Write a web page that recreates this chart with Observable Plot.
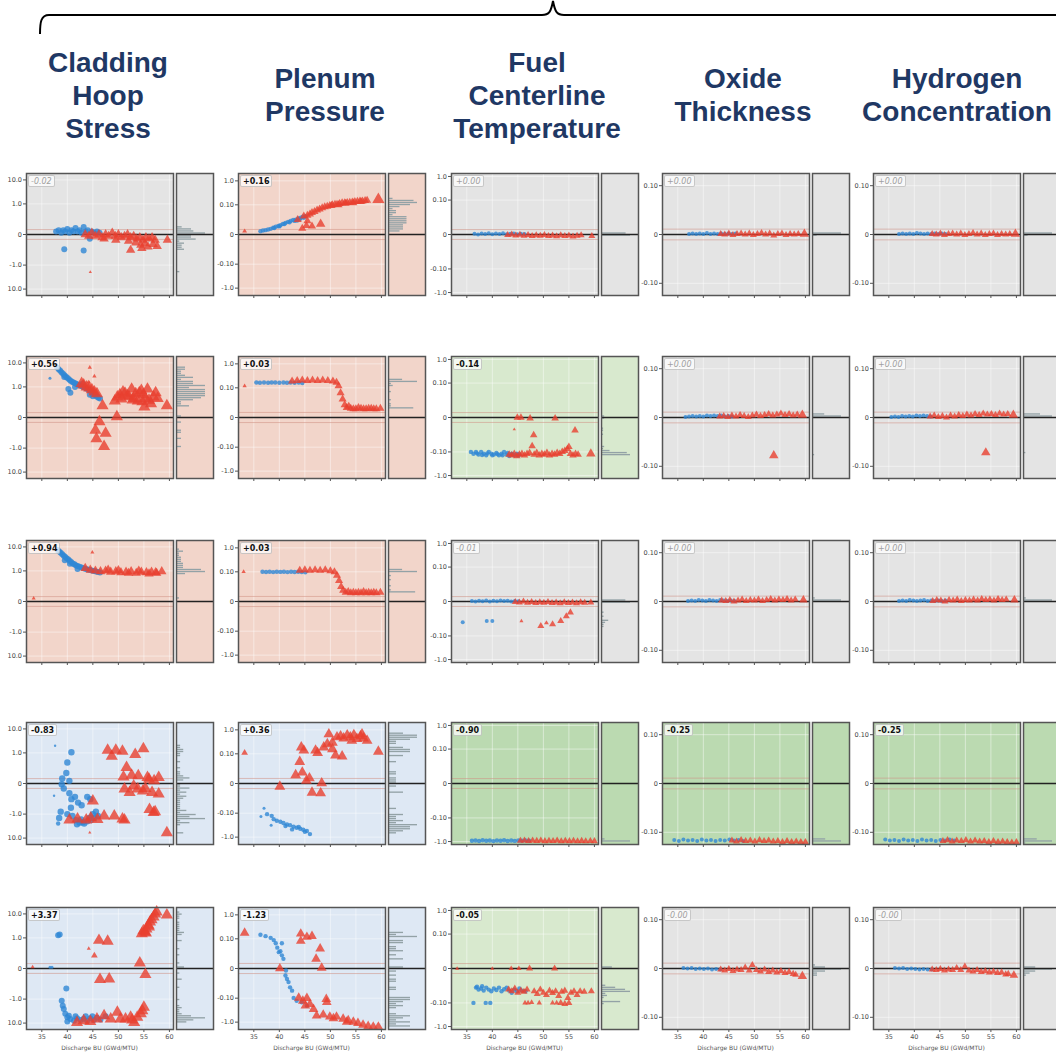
<!DOCTYPE html>
<html>
<head>
<meta charset="utf-8">
<script src="https://cdn.jsdelivr.net/npm/d3@7"></script>
<script src="https://cdn.jsdelivr.net/npm/@observablehq/plot@0.6"></script>
<style>
  body { margin: 0; background: #fff; }
  #chart { position: relative; width: 1056px; height: 1053px; overflow: hidden; font-family: "DejaVu Sans", sans-serif; }
  .title { position: absolute; width: 240px; text-align: center; font: bold 28px/33px "Liberation Sans", Arial, sans-serif; color: #1f3864; transform: translate(-50%, -50%); }
  .badge { position: absolute; font-family: "DejaVu Sans", sans-serif; font-size: 8px; line-height: 9px; padding: 0.5px 2px; background: rgba(255,255,255,0.72); border: 1px solid rgba(140,140,140,0.45); border-radius: 2px; }
  .badge.sig { font-weight: bold; color: #111; }
  .badge.ns { font-style: italic; color: #a0a0a0; }
  .xlabel { position: absolute; font-family: "DejaVu Sans", sans-serif; font-size: 6px; color: #555; text-align: center; white-space: nowrap; }
  .cell { position: absolute; }
  .cell svg { overflow: visible; max-width: none !important; }
</style>
</head>
<body>
<div id="chart"></div>
<script>
// ---- column headers and axis ticks ----
const columnTitles = [
  ["Cladding", "Hoop", "Stress"],
  ["Plenum", "Pressure"],
  ["Fuel", "Centerline", "Temperature"],
  ["Oxide", "Thickness"],
  ["Hydrogen", "Concentration"]
];
const xTicks = [35, 40, 45, 50, 55, 60];
const xLabel = "Discharge BU (GWd/MTU)";
const yTicksStress = [-10, -1, 0, 1, 10];
const yTickLabelsStress = ["10.0", "-1.0", "0", "1.0", "10.0"];
const yTicksWide = [-1, -0.1, 0, 0.1, 1];
const yTickLabelsWide = ["-1.0", "-0.10", "0", "0.10", "1.0"];
const yTicksNarrow = [-0.1, 0, 0.1];
const yTickLabelsNarrow = ["-0.10", "0", "0.10"];

// ---- coefficient shown in each panel (rows x columns) ----
const coefficientLabels = [
  ["-0.02", "+0.16", "+0.00", "+0.00", "+0.00"],
  ["+0.56", "+0.03", "-0.14", "+0.00", "+0.00"],
  ["+0.94", "+0.03", "-0.01", "+0.00", "+0.00"],
  ["-0.83", "+0.36", "-0.90", "-0.25", "-0.25"],
  ["+3.37", "-1.23", "-0.05", "-0.00", "-0.00"]
];
const coefficientSignificant = [
  [false, true, false, false, false],
  [true, true, true, false, false],
  [true, true, false, false, false],
  [true, true, true, true, true],
  [true, true, true, false, false]
];
const panelFills = [
  ["gray", "salmon", "gray", "gray", "gray"],
  ["salmon", "salmon", "lightgreen", "gray", "gray"],
  ["salmon", "salmon", "gray", "gray", "gray"],
  ["blue", "blue", "darkgreen", "darkgreen", "darkgreen"],
  ["blue", "blue", "lightgreen", "gray", "gray"]
];
const fillColors = {gray: "#e4e4e4", salmon: "#f2d5ca", blue: "#dee8f4", lightgreen: "#d8e9ce", darkgreen: "#bbdab1"};

// ---- Cladding hoop stress: [discharge BU, relative change, optional marker radius] ----
const hoop1Blue = [[37.8,0.02],[38.3,0.03],[38.8,0.01],[39.2,0.03],[39.6,0.02],[40.0,0.04],[40.4,0.01],[40.8,0.03],[41.2,0.02],[41.6,0.05],[42.0,0.02],[42.4,0.03],[42.8,0.01],[43.2,0.06],[43.6,0.02],[44.0,0.03],[44.4,-0.03],[44.8,0.02],[45.3,0.01],[45.8,0.02],[46.3,0.01],[39.4,-0.18],[43.2,-0.21]];
const hoop1Red = [[43.5,0.0],[44.2,-0.01],[44.8,0.01],[45.5,-0.01],[46.2,0.0],[46.8,-0.02],[47.5,0.0],[48.1,-0.01],[48.8,0.01],[49.4,-0.01],[50.0,0.0],[50.6,-0.02],[51.2,-0.01],[51.8,0.0],[52.4,-0.02],[53.0,-0.01],[53.6,-0.03],[54.2,-0.02],[54.8,-0.04],[55.4,-0.02],[56.0,-0.03],[56.6,-0.02],[57.2,-0.04],[47.2,-0.03],[49.5,-0.04],[52.0,-0.05],[53.4,-0.07],[54.4,-0.1],[55.2,-0.08],[55.8,-0.13],[56.8,-0.09],[54.6,-0.16],[52.4,-0.2],[57.6,-0.12],[59.6,-0.04],[44.5,-2.0,1.2]];
const hoop2Blue = [[38.0,6.5],[38.3,5.5],[38.6,4.8],[38.9,4.0],[39.2,3.5],[39.5,3.0],[39.8,2.6],[40.1,2.3],[40.4,2.0],[40.7,1.8],[41.0,1.6],[41.3,1.5],[41.6,1.4],[41.9,1.3],[42.2,1.2],[42.5,1.15],[42.8,1.1],[43.1,1.0],[43.4,0.95],[43.7,0.85],[44.0,0.8],[44.3,0.72],[44.6,0.65],[44.9,0.58],[45.2,0.5],[45.5,0.42],[45.8,0.36],[46.1,0.32],[46.4,0.3],[40.2,0.8],[40.6,0.55],[41.5,1.0],[43.0,1.4],[44.4,0.45],[45.0,0.38],[39.4,2.6],[36.6,2.3,1.5]];
const hoop2Red = [[42.8,1.4],[43.2,1.2],[43.8,1.0],[44.3,0.9],[44.8,0.75],[45.3,0.6],[45.8,0.5],[44.4,6.5,1.6],[45.3,2.8,1.6],[44.2,1.6,1.6],[49.3,0.22],[49.8,0.35],[50.3,0.45],[50.9,0.6],[51.3,0.52],[51.8,0.4],[52.1,0.36],[52.6,0.8],[53.0,0.3],[53.4,0.5],[53.8,0.22],[54.1,0.55],[54.5,0.7],[54.9,0.45],[55.3,0.3],[55.7,0.8],[56.0,0.24],[56.4,0.16],[56.9,0.35],[57.3,0.55],[57.7,0.3],[55.1,0.1],[54.7,0.2],[52.8,0.25],[50.6,0.28],[59.5,0.12],[46.9,0.12],[49.7,0.005],[46.3,-0.03],[45.5,-0.14],[47.5,-0.2],[45.7,-0.38],[47.2,-0.86]];
const hoop3Blue = [[38.1,7.5],[38.4,6.5],[38.7,5.8],[39.0,5.0],[39.3,4.3],[39.6,3.8],[39.9,3.3],[40.2,3.0],[40.5,2.6],[40.8,2.3],[41.1,2.0],[41.4,1.9],[41.7,1.7],[42.0,1.6],[42.4,1.5],[42.8,1.4],[43.2,1.3],[43.6,1.2],[44.0,1.15],[44.4,1.1],[44.8,1.05],[45.2,1.0],[45.6,0.95],[46.0,0.9],[46.4,0.85],[39.5,2.8],[40.5,2.0],[42.0,1.2]];
const hoop3Red = [[43.5,1.3],[44.5,1.1],[45.5,1.0],[46.5,0.95],[47.5,1.0],[48.5,0.9],[49.5,0.95],[50.5,0.85],[51.5,0.9],[52.5,0.95],[53.5,0.8],[54.5,0.9],[55.5,0.85],[56.5,0.9],[57.5,0.8],[58.5,0.95],[48.0,1.1],[50.0,1.05],[52.0,0.8],[54.0,1.0],[56.0,0.75],[57.3,0.86],[44.9,6.0,1.5],[33.4,0.02,1.5]];
const hoop4Blue = [[40.8,1.06],[40.0,0.37],[39.8,0.1],[39.0,0.036],[40.4,0.017],[38.9,-0.004],[39.3,-0.036],[40.4,-0.09],[40.8,-0.2],[41.5,-0.15],[42.1,-0.3],[42.8,-0.4],[43.9,-0.15],[44.5,-0.2],[38.7,-0.78],[38.4,-1.45],[38.2,-2.5,2.2],[40.0,-1.0],[40.7,-0.52],[41.0,-1.2],[41.7,-1.8],[42.4,-2.3],[42.7,-1.7],[43.3,-2.5],[43.9,-2.0],[44.3,-1.45],[45.0,-1.0],[45.6,-0.78],[46.0,-1.2],[41.9,-2.7],[43.0,-2.2],[44.6,-1.8],[45.3,-1.45],[37.6,2.0,1.2],[37.4,-0.13,1.2]];
const hoop4Red = [[47.9,1.3],[48.7,0.71],[49.5,1.3],[50.8,1.17],[53.3,0.85],[54.9,1.5],[51.6,0.21],[51.0,0.05],[52.6,0.07],[53.9,0.065],[55.7,0.045],[56.0,0.03],[57.0,0.017],[57.9,0.045],[51.2,-0.04],[52.2,-0.08],[53.0,-0.015],[53.8,-0.04],[54.8,-0.06],[55.3,-0.036],[56.6,-0.08],[57.9,-0.1],[56.1,-0.63],[56.9,-0.86],[57.2,-0.78],[59.5,-6.0],[40.4,-1.8],[42.0,-1.6],[43.7,-1.8],[44.6,-1.45],[45.9,-1.7],[47.2,-1.2],[49.2,-1.2],[50.8,-1.6],[51.2,-1.8],[45.0,-0.25],[44.4,-6.0,1.2]];
const hoop5Blue = [[36.6,0.008,1.5],[37.0,0.008,1.5],[38.2,1.29],[38.5,1.4],[39.8,-0.33],[38.9,-1.17],[39.1,-1.9],[39.3,-2.6],[39.6,-4.1],[40.0,-5.8],[40.0,-8.6],[40.6,-6.8],[41.3,-8.0],[41.9,-6.3],[42.6,-7.5],[43.2,-6.6],[43.9,-8.0],[44.5,-6.3],[45.2,-7.5],[45.8,-6.1],[46.5,-7.1],[47.5,-5.2],[40.3,-5.0],[41.6,-5.2],[43.6,-5.2],[44.9,-5.2]];
const hoop5Red = [[33.2,0.008,1.5],[44.2,0.33,1.5],[45.3,0.14,2.5],[46.2,0.78],[47.9,0.71],[46.4,-0.11],[48.2,-0.1],[54.2,0.04],[55.3,-0.045],[54.6,1.5],[54.9,2.0],[55.2,1.8],[55.5,2.4],[55.9,3.4],[56.2,4.6],[56.5,5.8],[56.9,7.5],[57.2,9.8],[57.5,12.0],[55.4,1.6],[56.0,2.9],[59.5,9.0],[41.9,-9.5],[43.2,-8.0],[44.5,-8.6],[45.8,-6.8],[47.2,-5.0],[48.5,-6.8],[49.8,-3.6],[50.4,-6.8],[51.4,-6.8],[52.4,-5.8],[53.1,-9.5],[53.7,-5.8],[54.4,-4.1],[54.7,-3.1],[55.0,-2.2],[52.7,-7.5]];

// ---- Plenum pressure ----
const plen1Blue = [[36.3,0.0024],[36.8,0.003],[37.3,0.0033],[37.8,0.004],[38.3,0.0046],[38.8,0.0058],[39.3,0.007],[39.8,0.008],[40.2,0.009],[40.7,0.011],[41.2,0.013],[41.7,0.015],[42.2,0.017],[42.7,0.019],[43.2,0.02],[43.7,0.023],[44.2,0.025],[44.6,0.028],[45.1,0.03],[41.0,0.011],[42.0,0.014],[43.0,0.017],[44.0,0.021],[39.0,0.0055],[40.0,0.0075],[43.5,0.018],[44.8,0.025]];
const plen1Red = [[45.5,0.033],[46.0,0.038],[46.4,0.044],[46.9,0.05],[47.4,0.058],[47.9,0.065],[48.4,0.073],[48.9,0.08],[49.4,0.085],[49.9,0.093],[50.4,0.1],[50.9,0.103],[51.3,0.105],[51.8,0.112],[52.3,0.12],[52.8,0.122],[53.3,0.125],[53.8,0.128],[54.3,0.13],[54.8,0.135],[55.3,0.14],[55.8,0.142],[56.3,0.145],[56.8,0.15],[57.2,0.155],[50.2,0.092],[51.6,0.1],[53.0,0.115],[54.5,0.122],[56.0,0.135],[59.4,0.17,4.5],[33.2,0.0024,1.8],[44.5,0.005],[45.3,0.0085],[46.4,0.0077],[48.1,0.011,3.5],[43.6,0.02],[44.8,0.03],[45.5,0.017]];
const plen2Blue = [[35.5,0.17],[36.2,0.165],[37.0,0.17],[37.8,0.165],[38.5,0.17],[39.2,0.17],[40.0,0.165],[40.8,0.17],[41.5,0.165],[42.2,0.17],[43.0,0.165],[43.8,0.17],[44.5,0.16]];
const plen2Red = [[33.2,0.12,1.6],[42.5,0.19],[43.5,0.2],[44.5,0.21],[45.5,0.2],[46.5,0.21],[47.5,0.2],[48.5,0.21],[49.5,0.2],[50.5,0.19],[51.2,0.17],[51.6,0.12],[52.0,0.06],[52.4,0.03],[52.8,0.015],[53.2,0.01],[53.6,0.012],[54.0,0.009],[54.5,0.008],[55.0,0.008],[55.5,0.01],[56.0,0.009],[56.5,0.008],[57.0,0.008],[57.5,0.009],[58.0,0.009],[58.5,0.008],[59.0,0.008],[59.8,0.009]];
const plen3Blue = [[36.7,0.1],[37.4,0.098],[38.1,0.1],[38.8,0.097],[39.5,0.1],[40.2,0.099],[40.9,0.1],[41.6,0.097],[42.3,0.1],[43.0,0.098],[43.7,0.1],[44.4,0.097],[45.1,0.095]];
const plen3Red = [[33.0,0.1,1.6],[44.0,0.115],[45.0,0.12],[46.0,0.115],[47.0,0.12],[48.0,0.115],[49.0,0.12],[50.0,0.11],[50.8,0.1],[51.3,0.07],[51.7,0.04],[52.1,0.02],[52.5,0.012],[53.0,0.009],[53.5,0.01],[54.0,0.008],[54.5,0.009],[55.0,0.008],[55.5,0.009],[56.0,0.008],[56.5,0.01],[57.0,0.008],[57.5,0.009],[58.0,0.008],[58.5,0.009],[59.0,0.008],[59.8,0.009]];
const plen4Blue = [[37.0,-0.06,1.5],[36.4,-0.14,1.5],[37.6,-0.11],[38.5,-0.13],[38.4,-0.32,1.5],[38.9,-0.18],[39.5,-0.21],[40.2,-0.23],[40.8,-0.26],[41.5,-0.3],[42.1,-0.32],[42.8,-0.37],[43.4,-0.41],[44.1,-0.45],[44.7,-0.5],[45.4,-0.56],[46.0,-0.75],[42.5,-0.48],[41.2,-0.35],[43.8,-0.38],[45.0,-0.6]];
const plen4Red = [[33.2,0.11,2.5],[40.1,-0.0022],[43.2,0.008],[44.0,0.044],[44.3,0.19],[44.8,0.14],[44.5,0.012],[45.3,0.002],[45.9,0.0043],[46.4,-0.0088],[48.1,-0.0097],[48.3,0.0002],[47.1,0.14],[47.5,0.11],[48.7,0.19],[49.4,0.26],[49.7,0.67],[50.4,0.16],[51.0,0.085],[52.3,0.078],[50.4,0.3],[51.3,0.5],[52.0,0.55],[52.6,0.45],[53.3,0.6],[53.9,0.5],[54.6,0.62],[55.2,0.43],[55.9,0.55],[56.5,0.45],[57.2,0.36],[54.2,0.36],[56.2,0.67],[59.4,0.125]];
const plen5Blue = [[36.3,0.15],[37.3,0.13],[38.3,0.11],[38.9,0.088],[39.3,0.064],[39.6,0.04],[39.9,0.024],[40.2,0.027],[40.5,0.016],[40.5,0.064],[40.8,0.0097],[41.3,-0.0014],[41.2,-0.0062],[41.5,-0.011],[41.8,-0.017],[42.1,-0.032],[42.5,-0.046],[42.8,-0.097],[43.4,-0.13],[44.4,-0.15],[45.4,-0.21]];
const plen5Red = [[33.2,0.18],[44.2,0.165],[44.2,0.08],[45.4,0.12],[46.4,0.13],[48.0,0.036],[47.2,0.0097],[48.3,0.0004],[40.1,0.0],[49.2,-0.11],[49.3,-0.15],[43.8,-0.097],[44.6,-0.13],[45.4,-0.1],[46.0,-0.18],[46.7,-0.29],[45.1,-0.21],[47.3,-0.55],[48.6,-0.5],[49.9,-0.6],[50.6,-0.7],[51.2,-0.6],[52.5,-0.74],[53.2,-0.98],[53.5,-0.85],[54.5,-0.98],[55.4,-1.1],[56.4,-1.3],[57.4,-1.45],[58.4,-1.55],[59.4,-1.55]];

// ---- Fuel centerline temperature ----
const fuel1Blue = [[36.5,0.0003],[37.2,0.0],[37.9,0.0004],[38.6,0.0002],[39.3,0.0005],[40.0,0.0001],[40.7,0.0004],[41.4,0.0002],[42.1,0.0005],[42.8,0.0001],[43.5,0.0003],[44.2,0.0004],[44.9,0.0001],[45.6,0.0003],[46.3,0.0002]];
const fuel1Red = [[43.0,-0.0002],[43.8,0.0],[44.6,-0.0004],[45.4,-0.0001],[46.2,-0.0005],[47.0,-0.0002],[47.8,-0.0006],[48.6,-0.0003],[49.4,-0.0005],[50.2,-0.0002],[51.0,-0.0006],[51.8,-0.0004],[52.6,-0.0007],[53.4,-0.0003],[54.2,-0.0006],[55.0,-0.0004],[55.8,-0.0008],[56.6,-0.0005],[57.4,-0.0003],[59.5,-0.0006]];
const fuel2Blue = [[35.8,-0.1],[36.3,-0.12],[36.8,-0.1],[37.3,-0.13],[37.8,-0.1],[38.3,-0.12],[38.8,-0.14],[39.3,-0.1],[39.8,-0.12],[40.3,-0.13],[40.8,-0.11],[41.3,-0.14],[41.8,-0.12],[42.3,-0.1],[42.8,-0.13],[43.3,-0.15],[43.8,-0.12],[44.3,-0.14],[44.8,-0.12],[45.3,-0.13],[37.0,-0.115],[38.0,-0.135],[39.0,-0.115],[40.0,-0.14],[41.0,-0.125],[42.0,-0.14],[43.0,-0.11],[44.0,-0.13],[45.0,-0.145]];
const fuel2Red = [[43.3,-0.13],[43.8,-0.14],[44.3,-0.12],[44.8,-0.15],[45.3,-0.13],[45.8,-0.12],[46.3,-0.14],[46.8,-0.12],[47.3,-0.11],[48.2,-0.13],[48.7,-0.11],[49.2,-0.14],[49.7,-0.12],[50.2,-0.13],[50.7,-0.11],[51.2,-0.14],[51.7,-0.12],[52.2,-0.13],[52.7,-0.11],[53.2,-0.12],[53.7,-0.1],[54.2,-0.09],[54.7,-0.075],[55.0,-0.06],[55.3,-0.12],[55.8,-0.14],[56.3,-0.12],[56.8,-0.13],[59.3,-0.12,3.5],[56.2,-0.0092],[48.1,-0.017],[47.8,-0.055],[44.9,0.0],[45.6,0.0],[47.4,-0.0003],[52.3,-0.0003],[44.3,-0.008,1.2]];
const fuel3Blue = [[36.0,0.0002],[36.7,0.0],[37.4,0.0003],[38.1,0.0001],[38.8,0.0004],[39.5,0.0],[40.2,0.0003],[40.9,0.0001],[41.6,0.0004],[42.3,0.0002],[43.0,0.0003],[43.7,0.0],[44.4,0.0002],[45.1,0.0001],[34.2,-0.024],[38.9,-0.021],[40.0,-0.021]];
const fuel3Red = [[44.5,-0.0002],[45.3,-0.0004],[46.1,0.0],[46.9,-0.0005],[47.7,-0.0002],[48.5,-0.0006],[49.3,-0.0003],[50.1,-0.0005],[50.9,-0.0002],[51.7,-0.0006],[52.5,-0.0004],[53.3,-0.0007],[54.1,-0.0003],[54.9,-0.0006],[55.7,-0.0004],[56.5,-0.0007],[57.3,-0.0003],[58.1,-0.0005],[59.3,-0.0004],[49.5,-0.036],[51.8,-0.03],[53.4,-0.021],[54.5,-0.012],[55.3,-0.007],[45.7,-0.021,1.5],[50.6,-0.026,1.8]];
const fuel4Blue = [[36.0,-0.92],[36.7,-0.9],[37.4,-0.95],[38.1,-0.88],[38.8,-0.93],[39.5,-0.9],[40.2,-0.96],[40.9,-0.9],[41.6,-0.93],[42.3,-0.88],[43.0,-0.95],[43.7,-0.91],[44.4,-0.94],[45.1,-0.9],[45.8,-0.93],[46.5,-0.89],[47.2,-0.92]];
const fuel4Red = [[45.5,-0.93],[46.3,-0.9],[47.1,-0.95],[47.9,-0.91],[48.7,-0.94],[49.5,-0.9],[50.3,-0.96],[51.1,-0.92],[51.9,-0.95],[52.7,-0.91],[53.5,-0.97],[54.3,-0.93],[55.1,-0.96],[55.9,-0.92],[56.7,-0.98],[57.5,-0.94],[58.3,-0.97],[59.2,-0.95],[60.0,-0.96]];
const fuel5Blue = [[36.8,-0.02],[37.3,-0.025],[37.8,-0.022],[38.3,-0.028],[38.8,-0.02],[39.3,-0.025],[39.8,-0.03],[40.3,-0.022],[40.8,-0.026],[41.3,-0.02],[41.8,-0.03],[42.3,-0.024],[42.8,-0.02],[43.3,-0.028],[43.8,-0.035],[44.3,-0.025],[44.8,-0.03],[45.3,-0.022],[45.8,-0.028],[46.5,-0.03],[37.0,-0.018],[38.0,-0.017],[36.3,-0.1],[38.7,-0.1],[39.6,-0.1]];
const fuel5Red = [[43.2,-0.025],[43.8,-0.03],[44.4,-0.022],[45.0,-0.035],[45.6,-0.028],[46.2,-0.032],[46.8,-0.025],[48.2,-0.03],[48.8,-0.04],[49.4,-0.025],[50.0,-0.035],[50.6,-0.045],[51.2,-0.028],[51.8,-0.036],[52.4,-0.03],[53.0,-0.05],[53.6,-0.032],[54.2,-0.028],[54.8,-0.06],[55.4,-0.035],[56.0,-0.03],[56.6,-0.045],[57.2,-0.03],[58.0,-0.032],[59.4,-0.03],[46.4,-0.1,2],[47.0,-0.1,2],[47.7,-0.095,2],[49.2,-0.1,2],[51.8,-0.1,2],[52.6,-0.1,2],[53.4,-0.1],[54.2,-0.11],[55.0,-0.1],[33.1,0.0,1.5],[40.0,0.0,1.5],[43.7,0.0,2],[45.2,0.0,2],[47.3,0.0],[52.2,0.0]];

// ---- Oxide thickness ----
const oxide1Blue = [[37.2,0.001],[37.9,0.002],[38.6,0.001],[39.3,0.002],[40.0,0.001],[40.7,0.003],[41.4,0.001],[42.1,0.002],[42.8,0.001],[43.5,0.002],[44.2,0.001],[44.9,0.002],[45.6,0.001],[46.3,0.002]];
const oxide1Red = [[43.4,0.001],[44.2,0.0],[45.0,0.002],[45.8,-0.001],[46.6,0.001],[47.4,0.002],[48.2,0.0],[49.0,0.002],[49.8,-0.001],[50.6,0.001],[51.4,0.003],[52.2,0.0],[53.0,0.002],[53.8,-0.002],[54.6,0.001],[55.4,0.002],[56.2,-0.001],[57.0,0.001],[57.8,0.0],[58.6,0.001],[59.8,0.001,3.5]];
const oxide2Blue = [[36.5,0.001],[37.2,0.002],[37.9,0.003],[38.6,0.002],[39.3,0.003],[40.0,0.002],[40.7,0.004],[41.4,0.003],[42.1,0.004],[42.8,0.003],[43.5,0.004],[44.2,0.002],[44.9,0.003],[45.6,0.002]];
const oxide2Red = [[43.2,0.002],[44.0,0.003],[44.8,0.001],[45.6,0.004],[46.4,0.002],[47.2,0.005],[48.0,0.003],[48.8,0.001],[49.6,0.004],[50.4,0.006],[51.2,0.003],[52.0,0.005],[52.8,0.007],[53.6,0.004],[54.4,0.006],[55.2,0.008],[56.0,0.005],[56.8,0.007],[57.6,0.004],[58.4,0.006],[59.4,0.005,3.5],[53.8,-0.078,3.5]];
const oxide3Blue = [[37.0,0.001],[37.7,0.002],[38.4,0.001],[39.1,0.003],[39.8,0.002],[40.5,0.001],[41.2,0.003],[41.9,0.002],[42.6,0.001],[43.3,0.003],[44.0,0.002],[44.7,0.001],[45.4,0.002],[46.1,0.001]];
const oxide3Red = [[43.6,0.002],[44.4,0.001],[45.2,0.003],[46.0,0.0],[46.8,0.002],[47.6,0.004],[48.4,0.001],[49.2,0.003],[50.0,0.002],[50.8,0.004],[51.6,0.001],[52.4,0.003],[53.2,0.005],[54.0,0.002],[54.8,0.004],[55.6,0.003],[56.4,0.005],[57.2,0.002],[58.0,0.004],[59.6,0.003,3.2]];
const oxide4Blue = [[34.3,-0.116],[35.2,-0.118],[36.1,-0.115],[37.0,-0.117],[37.9,-0.116],[38.8,-0.118],[39.7,-0.115],[40.6,-0.117],[41.5,-0.116],[42.4,-0.118],[43.3,-0.116],[44.2,-0.117],[45.1,-0.115],[46.0,-0.117],[46.9,-0.116],[47.8,-0.118]];
const oxide4Red = [[45.6,-0.117],[46.5,-0.119],[47.4,-0.116],[48.3,-0.118],[49.2,-0.117],[50.1,-0.119],[51.0,-0.116],[51.9,-0.118],[52.8,-0.117],[53.7,-0.119],[54.6,-0.118],[55.5,-0.12],[56.4,-0.118],[57.3,-0.12],[58.2,-0.119],[59.1,-0.12],[60.0,-0.12]];
const oxide5Blue = [[36.1,0.001],[36.9,0.0],[37.7,0.001],[38.5,-0.001],[39.3,0.0],[40.1,-0.001],[40.9,0.0],[41.7,-0.002],[42.5,-0.001],[43.3,-0.002]];
const oxide5Red = [[43.4,-0.002],[44.2,-0.004],[45.0,-0.001],[45.8,-0.005],[46.6,-0.002],[47.4,-0.003],[48.2,0.002],[49.0,-0.004],[49.6,0.007],[50.4,-0.003],[51.2,-0.006],[52.0,-0.002],[52.8,-0.007],[53.6,-0.004],[54.4,-0.008],[55.2,-0.005],[56.0,-0.009],[56.8,-0.007],[57.6,-0.011],[58.1,-0.013],[59.4,-0.016,3.5]];

// ---- Hydrogen concentration ----
const hydrogen1Blue = [[37.0,0.001],[37.7,0.002],[38.4,0.001],[39.1,0.002],[39.8,0.001],[40.5,0.003],[41.2,0.002],[41.9,0.001],[42.6,0.002],[43.3,0.001],[44.0,0.002],[44.7,0.001],[45.4,0.002],[46.1,0.001]];
const hydrogen1Red = [[43.5,0.001],[44.3,0.0],[45.1,0.002],[45.9,-0.001],[46.7,0.001],[47.5,0.002],[48.3,0.0],[49.1,0.002],[49.9,-0.001],[50.7,0.001],[51.5,0.003],[52.3,0.0],[53.1,0.002],[53.9,-0.001],[54.7,0.001],[55.5,0.002],[56.3,-0.001],[57.1,0.001],[57.9,0.0],[58.7,0.001],[59.8,0.001,3.5]];
const hydrogen2Blue = [[35.5,0.001],[36.2,0.002],[36.9,0.001],[37.6,0.003],[38.3,0.002],[39.0,0.003],[39.7,0.002],[40.4,0.004],[41.1,0.003],[41.8,0.004],[42.5,0.003],[43.2,0.002]];
const hydrogen2Red = [[43.1,0.002],[43.9,0.004],[44.7,0.001],[45.5,0.003],[46.3,0.0],[47.1,0.004],[47.9,0.002],[48.7,0.005],[49.5,0.003],[50.3,0.006],[51.1,0.004],[51.9,0.007],[52.7,0.005],[53.5,0.008],[54.3,0.006],[55.1,0.007],[55.9,0.005],[56.7,0.008],[57.5,0.006],[58.3,0.007],[59.4,0.005,3.5],[54.0,-0.072,3.5]];
const hydrogen3Blue = [[37.0,0.001],[37.7,0.002],[38.4,0.001],[39.1,0.003],[39.8,0.002],[40.5,0.001],[41.2,0.002],[41.9,0.003],[42.6,0.001],[43.3,0.002],[44.0,0.001],[44.7,0.002],[45.4,0.001],[46.1,0.002]];
const hydrogen3Red = [[43.6,0.001],[44.4,0.003],[45.2,0.002],[46.0,0.0],[46.8,0.003],[47.6,0.002],[48.4,0.004],[49.2,0.001],[50.0,0.003],[50.8,0.002],[51.6,0.004],[52.4,0.002],[53.2,0.005],[54.0,0.003],[54.8,0.004],[55.6,0.002],[56.4,0.005],[57.2,0.003],[58.0,0.004],[59.6,0.003,3.2]];
const hydrogen4Blue = [[34.3,-0.115],[35.2,-0.117],[36.1,-0.116],[37.0,-0.118],[37.9,-0.115],[38.8,-0.117],[39.7,-0.116],[40.6,-0.118],[41.5,-0.115],[42.4,-0.117],[43.3,-0.116],[44.2,-0.118],[45.1,-0.116],[46.0,-0.117],[46.9,-0.115],[47.8,-0.117]];
const hydrogen4Red = [[45.6,-0.118],[46.5,-0.116],[47.4,-0.119],[48.3,-0.117],[49.2,-0.118],[50.1,-0.116],[51.0,-0.119],[51.9,-0.117],[52.8,-0.119],[53.7,-0.118],[54.6,-0.12],[55.5,-0.118],[56.4,-0.12],[57.3,-0.119],[58.2,-0.12],[59.1,-0.121],[60.0,-0.12]];
const hydrogen5Blue = [[36.2,0.001],[37.0,0.0],[37.8,0.001],[38.6,-0.001],[39.4,0.0],[40.2,-0.001],[41.0,-0.002],[41.8,-0.001],[42.6,-0.002],[43.4,-0.002]];
const hydrogen5Red = [[43.5,-0.002],[44.3,-0.003],[45.1,-0.001],[45.9,-0.004],[46.7,-0.002],[47.5,-0.003],[48.3,0.001],[49.1,-0.003],[49.9,0.004],[50.7,-0.004],[51.5,-0.006],[52.3,-0.003],[53.1,-0.007],[53.9,-0.005],[54.7,-0.008],[55.5,-0.006],[56.3,-0.009],[57.1,-0.008],[57.9,-0.012],[58.4,-0.011],[59.5,-0.014,3.2]];

// ---- per-column y scale options ----
const columnScales = [
  {type: "symlog", constant: 0.06, domain: [-18.3, 18.3], ticks: yTicksStress, tickLabels: yTickLabelsStress, band: 0.035},
  {type: "symlog", constant: 0.0066, domain: [-2.0, 2.0], ticks: yTicksWide, tickLabels: yTickLabelsWide, band: 0.004},
  {type: "symlog", constant: 0.0038, domain: [-1.33, 1.33], ticks: yTicksWide, tickLabels: yTickLabelsWide, band: 0.0023},
  {type: "linear", domain: [-0.125, 0.125], ticks: yTicksNarrow, tickLabels: yTickLabelsNarrow, band: 0.011},
  {type: "linear", domain: [-0.125, 0.125], ticks: yTicksNarrow, tickLabels: yTickLabelsNarrow, band: 0.011}
];

// blue circles / red triangles for each [row][column], with default marker radii
const panelSeries = [
  [[hoop1Blue, hoop1Red, 3, 3.5], [plen1Blue, plen1Red, 2.2, 3], [fuel1Blue, fuel1Red, 2, 2.6], [oxide1Blue, oxide1Red, 2, 2.6], [hydrogen1Blue, hydrogen1Red, 2, 2.6]],
  [[hoop2Blue, hoop2Red, 3, 4.5], [plen2Blue, plen2Red, 2.2, 3], [fuel2Blue, fuel2Red, 2.2, 2.8], [oxide2Blue, oxide2Red, 2, 2.6], [hydrogen2Blue, hydrogen2Red, 2, 2.6]],
  [[hoop3Blue, hoop3Red, 3, 3.5], [plen3Blue, plen3Red, 2.2, 3], [fuel3Blue, fuel3Red, 2, 2.6], [oxide3Blue, oxide3Red, 2, 2.6], [hydrogen3Blue, hydrogen3Red, 2, 2.6]],
  [[hoop4Blue, hoop4Red, 3.2, 4.5], [plen4Blue, plen4Red, 2.2, 4], [fuel4Blue, fuel4Red, 2.2, 2.6], [oxide4Blue, oxide4Red, 2, 2.6], [hydrogen4Blue, hydrogen4Red, 2, 2.6]],
  [[hoop5Blue, hoop5Red, 3, 4.5], [plen5Blue, plen5Red, 2.2, 3.6], [fuel5Blue, fuel5Red, 2.2, 2.6], [oxide5Blue, oxide5Red, 2, 2.6], [hydrogen5Blue, hydrogen5Red, 2, 2.6]]
];

// ---- layout ----
const frameLefts = [26, 238, 451, 662, 873];
const frameTops = [173, 356, 540, 722, 907];
const titleCenters = [108, 325, 537, 743, 957];
const FW = 147, FH = 122, ML = 26, HGAP = 3, HW = 37;
const BLUE = "#2f87d4", RED = "#e8402f", FRAME = "#555", HIST = "#93a2a6";

const chart = document.getElementById("chart");

// bracket over the column headers
const svgNS = "http://www.w3.org/2000/svg";
const brace = document.createElementNS(svgNS, "svg");
brace.setAttribute("width", 1056); brace.setAttribute("height", 40);
brace.style.position = "absolute"; brace.style.left = "0"; brace.style.top = "0";
const bracePath = document.createElementNS(svgNS, "path");
bracePath.setAttribute("d", "M40,34 C40,22 41,15 49,15 L542,15 C549,15 551,12 553,1 C555,12 557,15 564,15 L1060,15");
bracePath.setAttribute("fill", "none"); bracePath.setAttribute("stroke", "#000"); bracePath.setAttribute("stroke-width", "2");
brace.appendChild(bracePath);
chart.appendChild(brace);

columnTitles.forEach((lines, c) => {
  const t = document.createElement("div");
  t.className = "title";
  t.style.left = titleCenters[c] + "px";
  t.style.top = "95px";
  t.innerHTML = lines.join("<br>");
  chart.appendChild(t);
});

function binEdges(col, n) {
  const s = (col.type === "symlog" ? d3.scaleSymlog().constant(col.constant) : d3.scaleLinear())
    .domain(col.domain).range([0, n]);
  return d3.range(n + 1).map(i => s.invert(i));
}

function yScale(col) {
  return col.type === "symlog"
    ? {type: "symlog", constant: col.constant, domain: col.domain}
    : {type: "linear", domain: col.domain};
}

function place(node, left, top) {
  const wrap = document.createElement("div");
  wrap.className = "cell";
  wrap.style.left = left + "px";
  wrap.style.top = top + "px";
  node.style.maxWidth = "none";
  wrap.appendChild(node);
  chart.appendChild(wrap);
}

for (let r = 0; r < 5; r++) {
  for (let c = 0; c < 5; c++) {
    const col = columnScales[c];
    const [blue, red, rb, rr] = panelSeries[r][c];
    const bg = fillColors[panelFills[r][c]];
    const bottom = r === 4;
    const MB = bottom ? 16 : 6;
    const fmt = d => col.tickLabels[col.ticks.indexOf(d)];

    const scatter = Plot.plot({
      width: ML + FW, height: FH + MB,
      marginLeft: ML, marginRight: 0, marginTop: 0, marginBottom: MB,
      style: {background: "transparent", fontFamily: "DejaVu Sans, sans-serif", overflow: "visible"},
      x: {domain: [32, 60.8]},
      y: yScale(col),
      r: {type: "identity"},
      marks: [
        Plot.frame({fill: bg, stroke: null}),
        Plot.ruleX(xTicks, {stroke: "#fff", strokeOpacity: 0.45}),
        Plot.ruleY(col.ticks, {stroke: "#fff", strokeOpacity: 0.45}),
        Plot.ruleY([col.band, -col.band], {stroke: "#cf8f84", strokeOpacity: 0.55}),
        Plot.ruleY([0], {stroke: "#222", strokeWidth: 1.3}),
        Plot.dot(blue, {x: d => d[0], y: d => d[1], r: d => d[2] ?? rb, fill: BLUE, fillOpacity: 0.8}),
        Plot.dot(red, {x: d => d[0], y: d => d[1], r: d => d[2] ?? rr, symbol: "triangle", fill: RED, fillOpacity: 0.8}),
        Plot.axisY(col.ticks, {tickSize: 3, tickPadding: 1.5, tickFormat: fmt, fontSize: 6.5, fill: "#444", stroke: "#555", label: null}),
        Plot.axisX(xTicks, {tickSize: 3, tickPadding: 2, tickFormat: bottom ? d => String(d) : () => "", fontSize: 6.5, fill: "#555", stroke: "#555", label: null}),
        Plot.frame({stroke: FRAME, strokeWidth: 1.5})
      ]
    });
    place(scatter, frameLefts[c] - ML, frameTops[r]);

    const allY = blue.concat(red).map(d => d[1]);
    const hist = Plot.plot({
      width: HW, height: FH, margin: 0,
      style: {background: "transparent", overflow: "visible"},
      x: {axis: null, range: [1, 29]},
      y: {...yScale(col), axis: null},
      marks: [
        Plot.frame({fill: bg, stroke: null}),
        Plot.rectX(allY, Plot.binY({x: "count"}, {y: d => d, thresholds: binEdges(col, 60), fill: HIST, insetTop: 0.35, insetBottom: 0.35})),
        Plot.ruleY([0], {stroke: "#222", strokeWidth: 1.3}),
        Plot.frame({stroke: FRAME, strokeWidth: 1.5})
      ]
    });
    place(hist, frameLefts[c] + FW + HGAP, frameTops[r]);

    const badge = document.createElement("div");
    badge.className = "badge " + (coefficientSignificant[r][c] ? "sig" : "ns");
    badge.style.left = (frameLefts[c] + 2) + "px";
    badge.style.top = (frameTops[r] + 2) + "px";
    badge.textContent = coefficientLabels[r][c];
    chart.appendChild(badge);

    if (bottom) {
      const lab = document.createElement("div");
      lab.className = "xlabel";
      lab.style.left = frameLefts[c] + "px";
      lab.style.width = FW + "px";
      lab.style.top = (frameTops[r] + FH + 15) + "px";
      lab.textContent = xLabel;
      chart.appendChild(lab);
    }
  }
}
</script>
</body>
</html>
